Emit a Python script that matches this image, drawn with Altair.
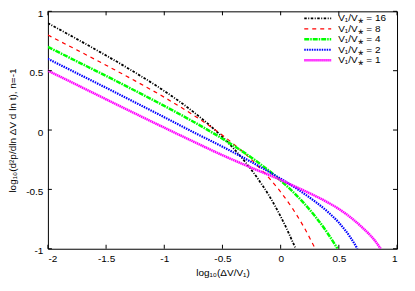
import altair as alt
import pandas as pd

# ---- data ----
series_labels = ["V₁/V⁎ = 16", "V₁/V⁎ = 8", "V₁/V⁎ = 4", "V₁/V⁎ = 2", "V₁/V⁎ = 1"]

x_16 = [-2, -1.75, -1.5, -1.25, -1, -0.75, -0.5, -0.4, -0.3, -0.2, -0.1, 0, 0.05, 0.1, 0.13]
y_16 = [0.90, 0.766, 0.628, 0.484, 0.329, 0.153, -0.059, -0.160, -0.274, -0.404, -0.552, -0.728, -0.827, -0.935, -1.0]

x_8 = [-2, -1.75, -1.5, -1.25, -1, -0.75, -0.5, -0.3, -0.1, 0, 0.1, 0.2, 0.297]
y_8 = [0.80, 0.674, 0.546, 0.414, 0.276, 0.126, -0.044, -0.205, -0.403, -0.522, -0.658, -0.818, -1.0]

x_4 = [-2, -1.75, -1.5, -1.25, -1, -0.75, -0.5, -0.25, 0, 0.1, 0.2, 0.3, 0.4, 0.489]
y_4 = [0.70, 0.578, 0.456, 0.331, 0.203, 0.070, -0.073, -0.233, -0.425, -0.515, -0.616, -0.731, -0.864, -1.0]

x_2 = [-2, -1.75, -1.5, -1.25, -1, -0.75, -0.5, -0.25, 0, 0.1, 0.2, 0.3, 0.4, 0.5, 0.6, 0.66]
y_2 = [0.60, 0.478, 0.356, 0.232, 0.108, -0.018, -0.14, -0.27, -0.41, -0.47, -0.535, -0.605, -0.685, -0.78, -0.905, -1.0]

x_1 = [-2, -1.75, -1.5, -1.25, -1, -0.75, -0.5, -0.25, 0, 0.1, 0.2, 0.3, 0.4, 0.5, 0.6, 0.7, 0.8, 0.86]
y_1 = [0.50, 0.38, 0.259, 0.139, 0.02, -0.097, -0.212, -0.318, -0.42, -0.465, -0.51, -0.556, -0.607, -0.665, -0.735, -0.82, -0.92, -1.0]

x_ticks = [-2, -1.5, -1, -0.5, 0, 0.5, 1]
y_ticks = [-1, -0.5, 0, 0.5, 1]

# ---- styles ----
colors = ["#000000", "#ff0000", "#00ff00", "#0000ff", "#ff00ff"]
dashes = [[2.5, 1.5, 1, 1.5], [4, 4], [5, 1, 1.5, 1], [1.5, 1], [1.5, 0.5]]
widths = [1.8, 1.2, 2.5, 2.2, 2.5]

xs = [x_16, x_8, x_4, x_2, x_1]
ys = [y_16, y_8, y_4, y_2, y_1]
frames = []
for lab, xv, yv in zip(series_labels, xs, ys):
    frames.append(pd.DataFrame({"x": xv, "y": yv, "series": lab, "i": range(len(xv))}))
df = pd.concat(frames, ignore_index=True)
leg_df = pd.DataFrame({"series": series_labels})

W, H = 350, 238
FONT = "Liberation Sans"

x_scale = alt.Scale(domain=[-2, 1], nice=False, zero=False)
y_scale = alt.Scale(domain=[-1, 1], nice=False, zero=False)

x_main = alt.X("x:Q", scale=x_scale,
               title="log₁₀(ΔV/V₁)",
               axis=alt.Axis(values=x_ticks, labelExpr="'' + datum.value",
                             titleX=175, titleY=27, titleAlign="center", titleBaseline="alphabetic"))
y_main = alt.Y("y:Q", scale=y_scale,
               title="log₁₀(d²p/dln ΔV d ln t), n=-1",
               axis=alt.Axis(values=y_ticks, labelExpr="'' + datum.value", labelOffset=2,
                             titleX=-35, titleY=119, titleAlign="center", titleBaseline="middle"))
x_plain = alt.X("x:Q", scale=x_scale, title="log₁₀(ΔV/V₁)")
y_plain = alt.Y("y:Q", scale=y_scale, title="log₁₀(d²p/dln ΔV d ln t), n=-1")

plot_layers = []
for k, lab in enumerate(series_labels):
    plot_layers.append(
        alt.Chart(df).transform_filter(alt.datum.series == lab).mark_line(
            clip=True, interpolate="monotone", color=colors[k],
            strokeDash=dashes[k], strokeWidth=widths[k]
        ).encode(
            x=x_main if k == 0 else x_plain,
            y=y_main if k == 0 else y_plain,
            order="i:Q",
        )
    )

xt = pd.DataFrame({"x": x_ticks})
yt = pd.DataFrame({"y": y_ticks})
plot_layers += [
    alt.Chart(xt).mark_rule(color="black", strokeWidth=1).encode(
        x=x_plain, y=alt.value(H), y2=alt.value(H - 4)),
    alt.Chart(xt).mark_rule(color="black", strokeWidth=1).encode(
        x=x_plain, y=alt.value(0), y2=alt.value(4)),
    alt.Chart(yt).mark_rule(color="black", strokeWidth=1).encode(
        y=y_plain, x=alt.value(0), x2=alt.value(4)),
    alt.Chart(yt).mark_rule(color="black", strokeWidth=1).encode(
        y=y_plain, x=alt.value(W), x2=alt.value(W - 4)),
]
plot = alt.layer(*plot_layers)

leg_y = alt.Y("series:N", sort=series_labels,
              scale=alt.Scale(type="point", domain=series_labels, range=[7, 49], padding=0),
              axis=None)
leg_layers = []
for k, lab in enumerate(series_labels):
    leg_layers.append(
        alt.Chart(leg_df).transform_filter(alt.datum.series == lab).mark_rule(
            color=colors[k], strokeDash=dashes[k], strokeWidth=widths[k]
        ).encode(y=leg_y, x=alt.value(257), x2=alt.value(284))
    )
leg_layers.append(
    alt.Chart(leg_df).mark_text(align="left", baseline="middle", font=FONT,
                                fontSize=10, color="black").encode(
        y=leg_y, x=alt.value(291), text="series:N")
)
legend = alt.layer(*leg_layers)

chart = alt.layer(plot, legend).resolve_scale(
    y="independent"
).properties(
    width=W, height=H,
    padding={"left": 40, "top": 3, "right": 10, "bottom": 35},
    autosize=alt.AutoSizeParams(type="none"),
).configure_view(
    stroke="black", strokeWidth=1
).configure_axis(
    labelFont=FONT, labelFontSize=10, labelColor="black", labelPadding=5,
    titleFont=FONT, titleFontSize=10, titleFontWeight="normal", titleColor="black",
    grid=False, domain=False, ticks=False,
)

chart.save("out.html", embed_options={"renderer": "svg", "actions": False})
